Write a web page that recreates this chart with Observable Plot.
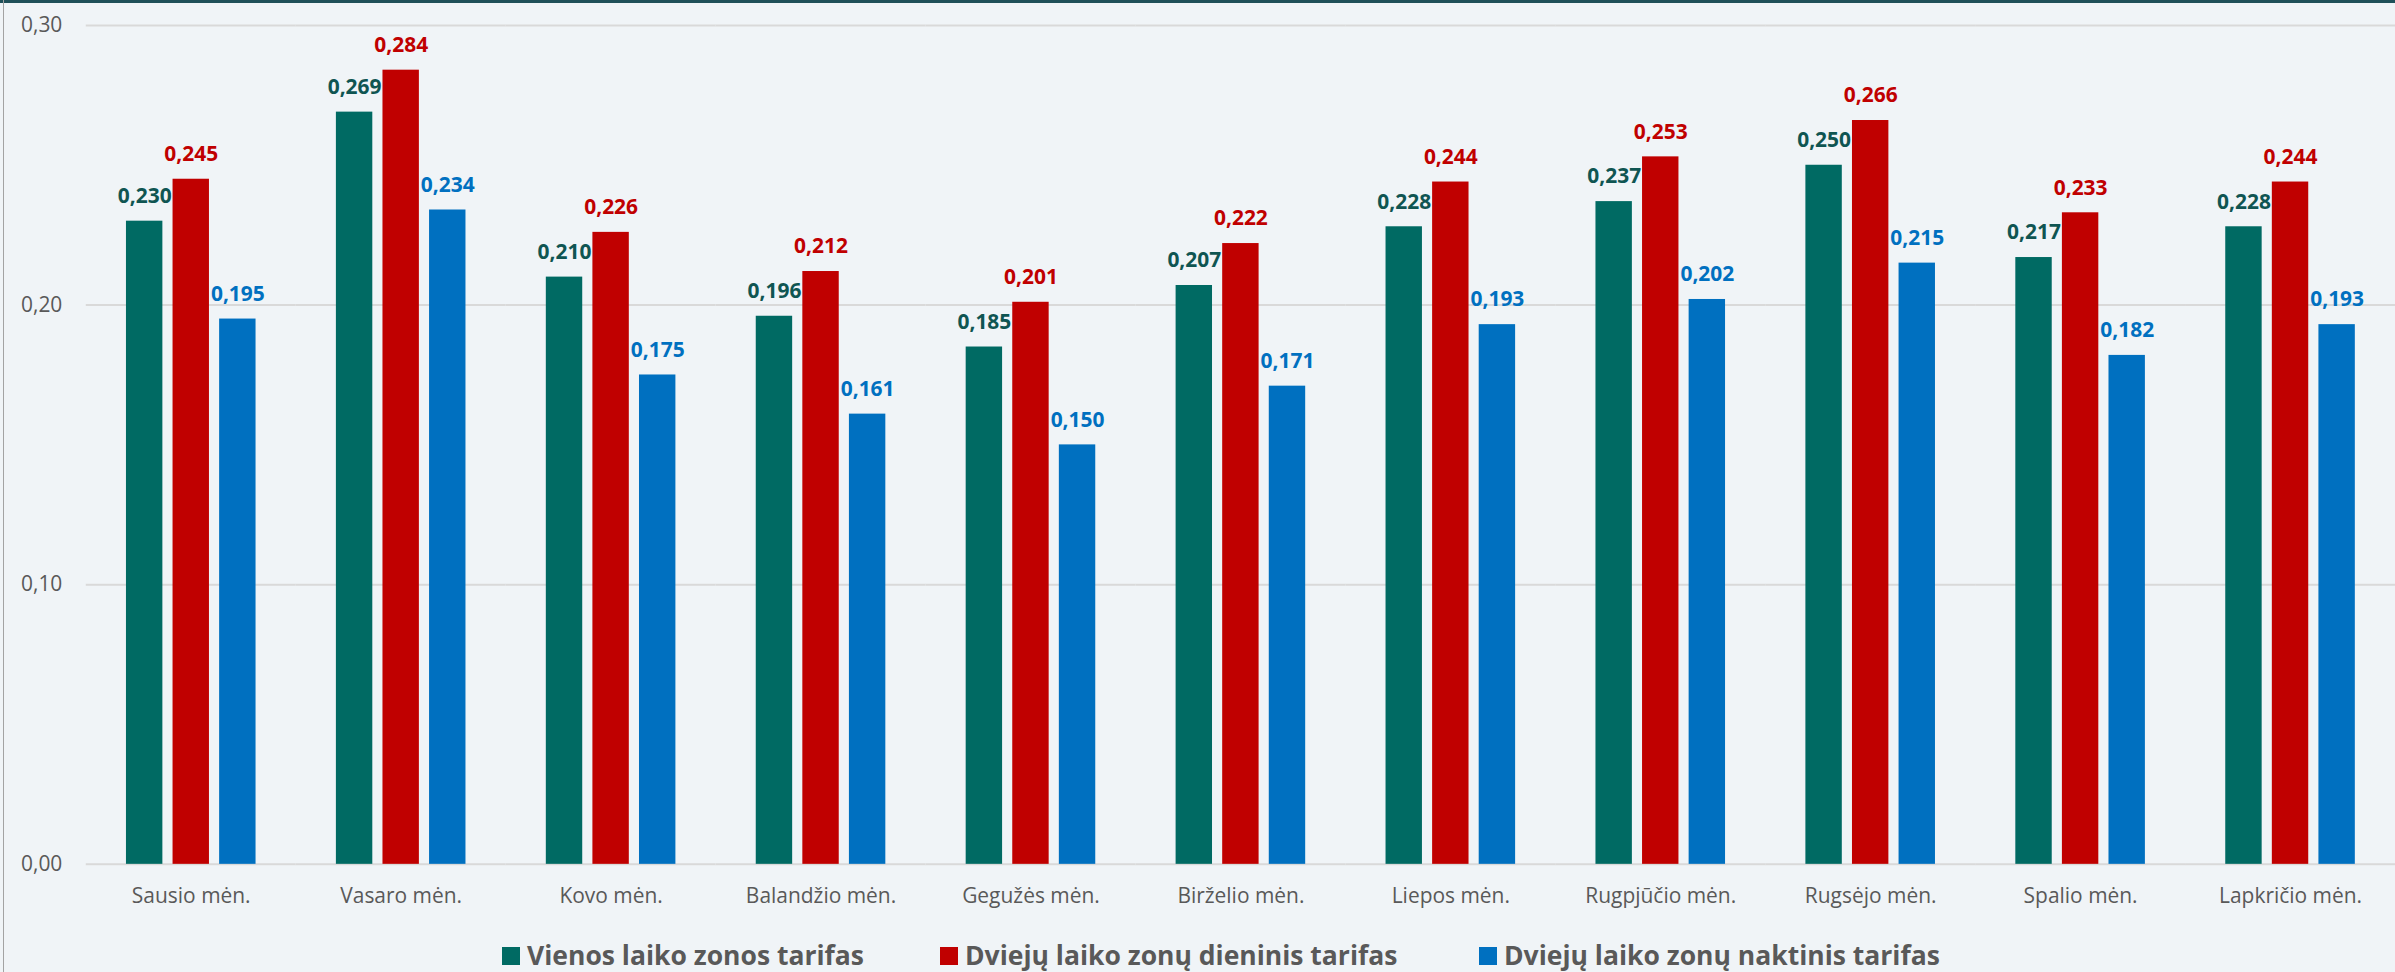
<!DOCTYPE html>
<html><head><meta charset="utf-8">
<script src="https://cdn.jsdelivr.net/npm/d3@7"></script>
<script src="https://cdn.jsdelivr.net/npm/@observablehq/plot@0.6"></script>
<style>
html,body{margin:0;padding:0;background:#f0f4f7;}
#wrap{position:relative;width:2395px;height:972px;overflow:hidden;background:#f0f4f7;font-family:"Open Sans",sans-serif;}
#chart{position:absolute;left:0;top:0;}
#legend{position:absolute;left:0;top:935px;width:2395px;height:41px;}
.item{position:absolute;top:0;height:41px;display:flex;align-items:center;font-weight:bold;font-size:26.5px;color:#595959;line-height:1;white-space:nowrap;}
.sw{width:18px;height:18px;margin-right:7px;flex:none;}
.topline{position:absolute;left:0;top:0;width:2395px;height:3px;background:#1f5059;}
.leftline{position:absolute;left:3px;top:0;width:1px;height:972px;background:#a3a3a3;}
</style></head><body>
<div id="wrap"><div id="chart"></div><div id="legend"></div><div class="topline"></div><div class="leftline"></div></div>
<script>
const months = ["Sausio mėn.","Vasaro mėn.","Kovo mėn.","Balandžio mėn.","Gegužės mėn.","Birželio mėn.","Liepos mėn.","Rugpjūčio mėn.","Rugsėjo mėn.","Spalio mėn.","Lapkričio mėn."];
const series = ["Vienos laiko zonos tarifas","Dviejų laiko zonų dieninis tarifas","Dviejų laiko zonų naktinis tarifas"];
const vienos   = [0.230,0.269,0.210,0.196,0.185,0.207,0.228,0.237,0.250,0.217,0.228];
const dieninis = [0.245,0.284,0.226,0.212,0.201,0.222,0.244,0.253,0.266,0.233,0.244];
const naktinis = [0.195,0.234,0.175,0.161,0.150,0.171,0.193,0.202,0.215,0.182,0.193];
const yTicks = [0, 0.1, 0.2, 0.3];
const barColors = ["#006a63","#c00000","#0070c0"];
const labelColors = ["#0f5552","#c00000","#0070c0"];
const legendLeft = [502, 940, 1479];

const valuesBySeries = [vienos, dieninis, naktinis];
const data = months.flatMap((m, i) => series.map((s, j) => ({month: m, series: s, value: valuesBySeries[j][i]})));
const comma = (f) => (v) => d3.format(f)(v).replace(".", ",");

const labelMarks = series.map((s, j) => Plot.text(data.filter(d => d.series === s), {
  fx: "month", x: "series", y: "value", text: d => comma(".3f")(d.value),
  fill: labelColors[j], dy: -25, fontWeight: "bold", fontSize: 21
}));

const chart = Plot.plot({
  width: 2401, height: 925,
  marginTop: 25, marginBottom: 59, marginLeft: 86, marginRight: 0,
  style: {background: "transparent", fontFamily: "Open Sans", fontSize: "21px", color: "#595959", overflow: "visible"},
  fx: {domain: months, padding: 0, round: false, label: null, tickSize: 0, tickPadding: 24, axis: "bottom"},
  x: {domain: series, axis: null, round: false, paddingInner: 0.2184, paddingOuter: 0.8624},
  y: {domain: [0, 0.3], ticks: yTicks, tickFormat: comma(".2f"), tickSize: 0, tickPadding: 24, label: null},
  color: {domain: series, range: barColors},
  marks: [
    Plot.ruleY(yTicks, {stroke: "#d9d9d9", strokeWidth: 2}),
    Plot.barY(data, {fx: "month", x: "series", y: "value", fill: "series"}),
    ...labelMarks
  ]
});
document.getElementById("chart").appendChild(chart);

const legend = document.getElementById("legend");
series.forEach((s, j) => {
  const it = document.createElement("div");
  it.className = "item";
  it.style.left = legendLeft[j] + "px";
  const sw = document.createElement("div");
  sw.className = "sw"; sw.style.background = barColors[j];
  const t = document.createElement("span"); t.textContent = s;
  it.appendChild(sw); it.appendChild(t);
  legend.appendChild(it);
});
</script>
</body></html>
